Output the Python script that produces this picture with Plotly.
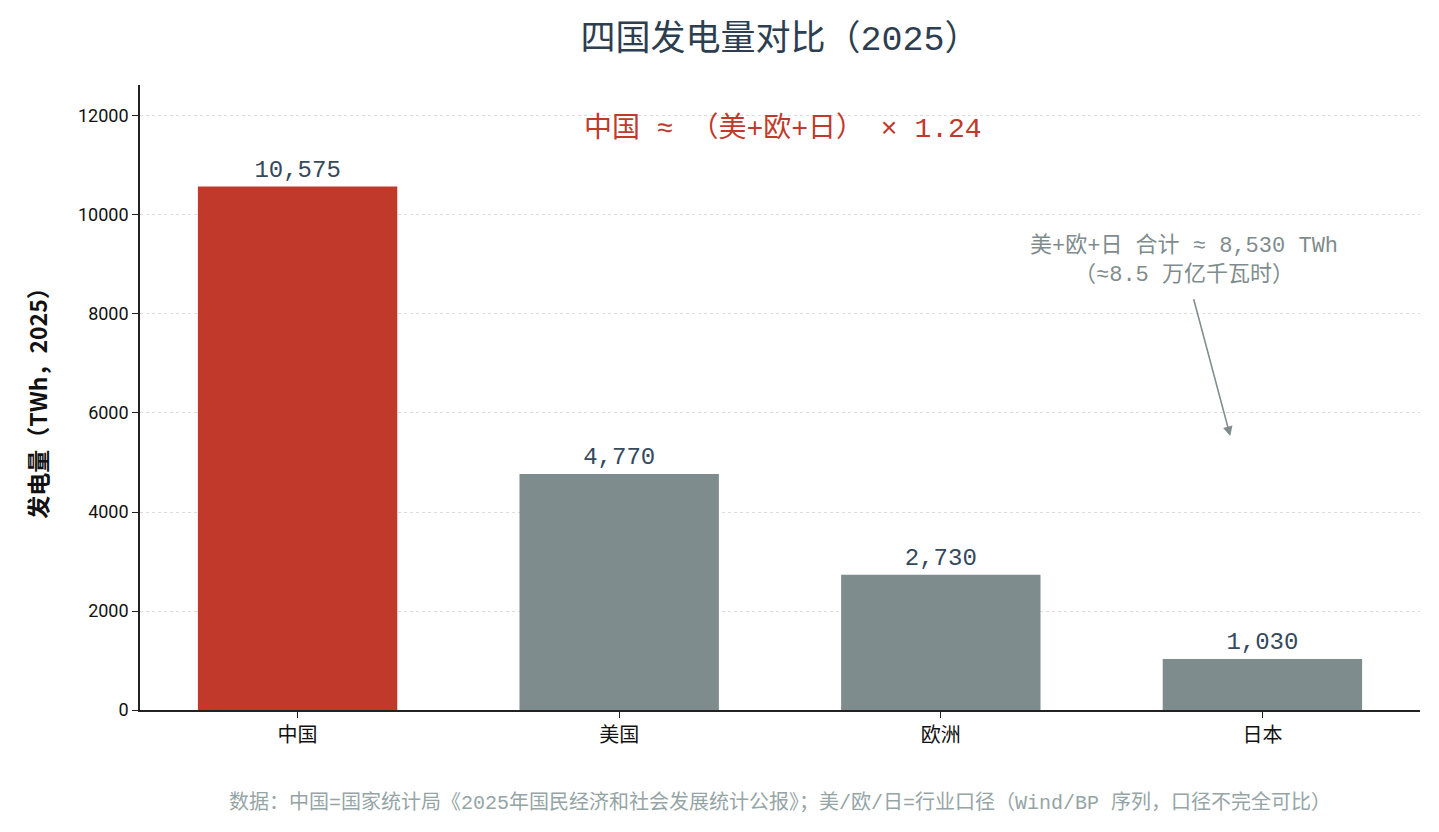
import plotly.graph_objects as go

regions = ["中国", "美国", "欧洲", "日本"]
power_twh = [10575, 4770, 2730, 1030]
bar_colors = ["#C0392B", "#7F8C8D", "#7F8C8D", "#7F8C8D"]
y_ticks = [0, 2000, 4000, 6000, 8000, 10000, 12000]

others = sum(power_twh[1:])
ratio = power_twh[0] / others

font = "Liberation Mono, Noto Sans CJK SC"
tick_font = "Liberation Sans Narrow, Roboto, Noto Sans CJK SC"

fig = go.Figure()
fig.add_trace(go.Bar(
    x=list(range(len(regions))), y=power_twh,
    marker=dict(color=bar_colors, line=dict(width=0)),
    width=0.62,
    text=[f"{v:,}" for v in power_twh],
    textposition="outside",
    textfont=dict(size=24, color="#34495E", family=font),
    cliponaxis=False,
    hoverinfo="skip",
))

# headline ratio
fig.add_annotation(
    x=1.51, y=11750, xref="x", yref="y",
    text=f"中国 ≈ （美+欧+日） × {ratio:.2f}",
    showarrow=False, font=dict(size=28, color="#C0392B", family=font),
)

# sum note with arrow
fig.add_annotation(
    x=2.757, y=9090, xref="x", yref="y",
    text=f"美+欧+日 合计 ≈ {others:,} TWh<br>（≈{others/1000:.1f} 万亿千瓦时）",
    showarrow=False, font=dict(size=22, color="#7F8C8D", family=font),
)
fig.add_annotation(
    x=2.90, y=5535, ax=2.785, ay=8330,
    xref="x", yref="y", axref="x", ayref="y",
    text="", showarrow=True, arrowhead=2, arrowsize=1.2, arrowwidth=1.6,
    arrowcolor="#7F8C8D",
)

# source line
fig.add_annotation(
    x=0.5, y=-0.149, xref="paper", yref="paper", yanchor="middle",
    text="数据：中国=国家统计局《2025年国民经济和社会发展统计公报》；美/欧/日=行业口径（Wind/BP 序列，口径不完全可比）",
    showarrow=False, font=dict(size=20, color="#95A5A6", family=font),
)

fig.update_layout(
    width=1439, height=832,
    margin=dict(l=132, r=27, t=77, b=130),
    plot_bgcolor="white", paper_bgcolor="white",
    title=dict(text="四国发电量对比（2025）", x=0.5, xref="paper", xanchor="center",
               y=0.964, yanchor="middle",
               font=dict(size=35, color="#2C3E50", family=font)),
    font=dict(family=font, color="#222"),
    showlegend=False,
)
fig.update_xaxes(
    tickmode="array", tickvals=list(range(len(regions))), ticktext=regions,
    range=[-0.49, 3.49], showline=True, linecolor="#222", linewidth=1.6,
    ticks="outside", ticklen=6, tickcolor="#222", showgrid=False,
    tickfont=dict(size=20, color="#111", family="Noto Sans CJK SC"),
)
fig.update_yaxes(
    range=[0, 12626], tickmode="array", tickvals=y_ticks,
    ticktext=[str(t) for t in y_ticks],
    showline=True, linecolor="#222", linewidth=1.6,
    ticks="outside", ticklen=6, tickcolor="#222",
    showgrid=True, gridcolor="#DDDDDD", griddash="dot", gridwidth=1,
    zeroline=False, tickfont=dict(size=18, color="#111", family=tick_font),
    title=dict(text="<b>发电量（TWh，2025）</b>",
               font=dict(size=23, color="#111", family="Noto Sans CJK SC"), standoff=24),
)

fig.write_html("out.html")
